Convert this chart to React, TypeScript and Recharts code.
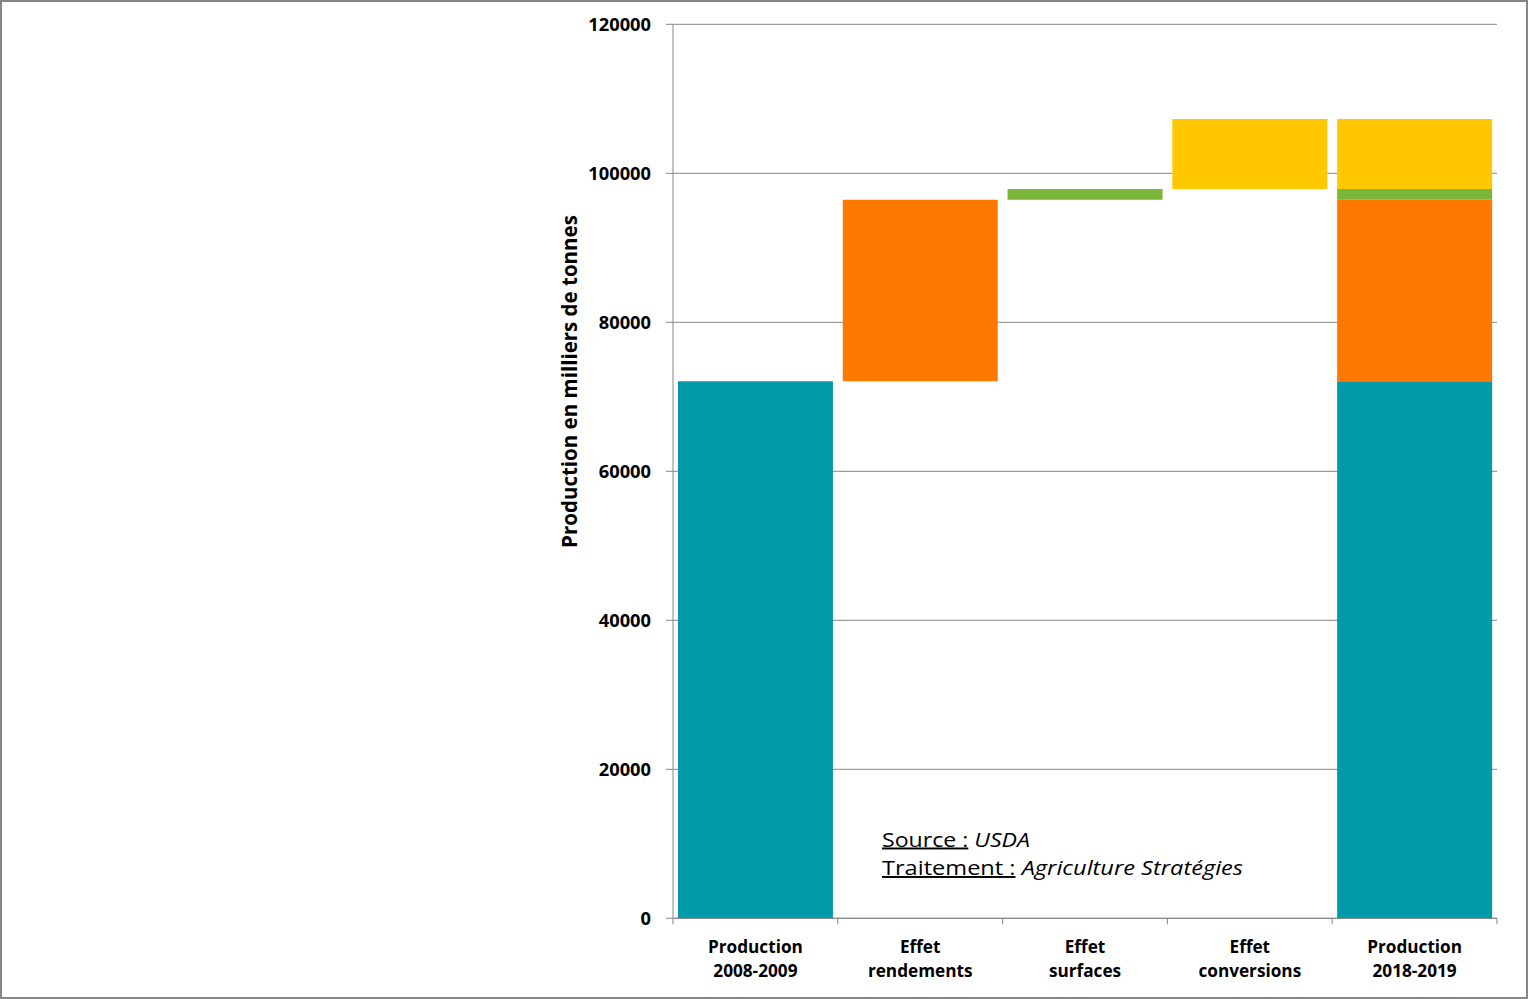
import React from 'react';
import { BarChart, Bar, XAxis, YAxis, CartesianGrid } from 'recharts';

const categories = [
  'Production\n2008-2009',
  'Effet\nrendements',
  'Effet\nsurfaces',
  'Effet\nconversions',
  'Production\n2018-2019',
];
const baseValues = [0, 72100, 96450, 97900, 0];
const productionValues = [72100, 0, 0, 0, 72100];
const rendementsValues = [0, 24350, 0, 0, 24350];
const surfacesValues = [0, 0, 1450, 0, 1450];
const conversionsValues = [0, 0, 0, 9400, 9400];
const yTicks = [0, 20000, 40000, 60000, 80000, 100000, 120000];

const data = categories.map((c, i) => ({
  cat: c,
  base: baseValues[i],
  production: productionValues[i],
  rendements: rendementsValues[i],
  surfaces: surfacesValues[i],
  conversions: conversionsValues[i],
}));

const W = 1528;
const H = 999;
const GRAY = '#868686';
const FONT = '"Open Sans", "Liberation Sans", sans-serif';
const PLOT_LEFT = 673;
const PLOT_RIGHT = 1497;
const PLOT_TOP = 24.3;
const PLOT_BOTTOM = 918.3;
const BAND_HALF = (PLOT_RIGHT - PLOT_LEFT) / categories.length / 2;

const CategoryTick = (props: any) => {
  const { x, y, payload, index } = props;
  const half = payload && payload.offset ? payload.offset : BAND_HALF;
  const lines = String(payload.value).split('\n');
  return (
    <g>
      <line x1={x - half} x2={x - half} y1={y} y2={y + 6} stroke={GRAY} strokeWidth={1} />
      {index === categories.length - 1 && (
        <line x1={x + half} x2={x + half} y1={y} y2={y + 6} stroke={GRAY} strokeWidth={1} />
      )}
      <text
        x={x}
        y={y}
        textAnchor="middle"
        fill="#000"
        fontFamily={FONT}
        fontWeight={700}
        fontSize={17.2}
      >
        {lines.map((l, i) => (
          <tspan key={i} x={x} dy={i === 0 ? 34.4 : 24}>
            {l}
          </tspan>
        ))}
      </text>
    </g>
  );
};

export default function App() {
  return (
    <div style={{ position: 'absolute', left: 0, top: 0, width: W, height: H, background: '#fff' }}>
      <BarChart
        width={W}
        height={H}
        data={data}
        margin={{ top: PLOT_TOP, right: W - PLOT_RIGHT, bottom: 0, left: 0 }}
        barCategoryGap="3%"
      >
        <CartesianGrid vertical={false} stroke={GRAY} strokeWidth={1} />
        <XAxis
          dataKey="cat"
          interval={0}
          height={H - PLOT_BOTTOM}
          tickLine={false}
          tickSize={0}
          tickMargin={0}
          axisLine={{ stroke: GRAY }}
          tick={<CategoryTick />}
        />
        <YAxis
          width={PLOT_LEFT}
          domain={[0, 120000]}
          ticks={yTicks}
          interval={0}
          tickSize={7}
          tickMargin={15}
          tickLine={{ stroke: GRAY }}
          axisLine={{ stroke: GRAY }}
          tick={{ fill: '#000', fontFamily: FONT, fontWeight: 700, fontSize: 18.3 }}
        />
        <Bar dataKey="base" stackId="a" fill="transparent" isAnimationActive={false} />
        <Bar dataKey="production" stackId="a" fill="#009AA8" isAnimationActive={false} />
        <Bar dataKey="rendements" stackId="a" fill="#FF7900" isAnimationActive={false} />
        <Bar dataKey="surfaces" stackId="a" fill="#7AB639" isAnimationActive={false} />
        <Bar dataKey="conversions" stackId="a" fill="#FFC800" isAnimationActive={false} />
      </BarChart>
      <svg
        width={W}
        height={H}
        style={{ position: 'absolute', left: 0, top: 0, pointerEvents: 'none' }}
      >
        <text
          x={577}
          y={381.5}
          transform="rotate(-90 577 381.5)"
          textAnchor="middle"
          fontFamily={FONT}
          fontWeight={700}
          fontSize={20.5}
          fill="#000"
        >
          Production en milliers de tonnes
        </text>
        <text x={882} y={846.5} fontFamily={FONT} fontWeight={500} fontSize={19.5} fill="#000" textLength={148} lengthAdjust="spacingAndGlyphs">
          <tspan style={{ textDecoration: 'underline' }}>Source :</tspan>
          <tspan fontStyle="italic"> USDA</tspan>
        </text>
        <text x={882} y={875} fontFamily={FONT} fontWeight={500} fontSize={19.5} fill="#000" textLength={361} lengthAdjust="spacingAndGlyphs">
          <tspan style={{ textDecoration: 'underline' }}>Traitement :</tspan>
          <tspan fontStyle="italic"> Agriculture Stratégies</tspan>
        </text>
      </svg>
      <div
        style={{
          position: 'absolute',
          left: 0,
          top: 0,
          width: W,
          height: H,
          boxSizing: 'border-box',
          border: `2px solid ${GRAY}`,
          pointerEvents: 'none',
        }}
      />
    </div>
  );
}
